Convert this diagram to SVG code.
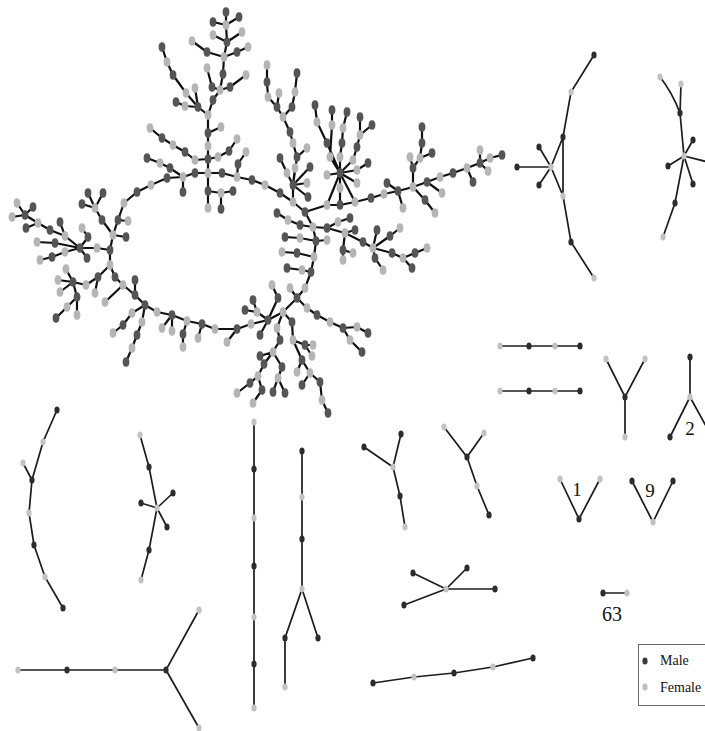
<svg xmlns="http://www.w3.org/2000/svg" xmlns:xlink="http://www.w3.org/1999/xlink" width="705" height="731" viewBox="0 0 705 731">
<style>
.e{fill:none;stroke:#111;stroke-width:2.2;stroke-linejoin:round;stroke-linecap:round}
.es{fill:none;stroke:#1c1c1c;stroke-width:1.7;stroke-linecap:round}
.lbl{font-family:"Liberation Serif","Times New Roman",serif;fill:#111}
</style>
<defs>
<ellipse id="M" rx="3.4" ry="4.7" fill="#555"/>
<ellipse id="F" rx="3.4" ry="4.7" fill="#b5b5b5"/>
<ellipse id="m" rx="2.6" ry="3.5" fill="#2c2c2c"/>
<ellipse id="f" rx="2.6" ry="3.5" fill="#c2c2c2"/>
</defs>
<rect width="705" height="731" fill="#fff"/>
<g id="connectors">
<path class="e" d="M124 203 L137 192 L151 185 L167 178 L183 177 L195 173 L208 173 L222 173 L237 177 L252 180 L265 185 L280 193 L293 202 L305 212 L313 227 L316 241 L314 257 L311 272 L305 288 L297 298 L283 312 L268 320 L251 324 L237 329 L215 329 L202 324 L187 321 L172 315 L157 312 L145 305 L135 295 L123 285 L115 277 L110 265 L110 250 L113 235 L118 220 L124 203"/>
<path class="e" d="M208 173 L208 159 L208 146 L208 133 L208 115 L213 100 L220 90 L223 74 L224 57 L227 42 L226 25 L226 12 M213 22 L226 25 L239 17 M213 35 L227 42 L242 32 M192 41 L207 52 L224 57 L237 52 L248 47 M207 68 L212 87 L220 90 L230 87 L246 75 M208 133 L221 127 M208 115 L198 107 L185 106 L176 102 M198 107 L195 88 M198 107 L186 93 L173 75 L167 62 L162 47 M208 159 L195 160 L185 152 L173 145 L162 138 L150 128 M208 159 L218 157 L229 151 L237 139 M237 177 L238 164 L246 152 M183 177 L170 168 L160 163 L147 158 M183 177 L183 192 M208 173 L208 191 L208 208 M208 191 L221 193 L233 191 M221 193 L221 209"/>
<path class="e" d="M113 235 L102 220 L95 208 L88 193 M95 208 L103 193 M95 208 L82 204 M118 220 L128 221 M113 235 L126 237"/>
<path class="e" d="M110 250 L97 248 L80 248 L65 236 L50 230 L38 223 L25 215 L17 203 M25 215 L12 217 M25 215 L33 207 M38 223 L26 228 M65 236 L60 222 M80 248 L55 243 L37 242 M80 248 L65 252 L52 257 L40 260 M80 248 L88 237 L82 228 M80 248 L87 258"/>
<path class="e" d="M110 265 L98 277 L86 285 L73 282 L58 280 M73 282 L66 269 M73 282 L60 292 M73 282 L77 297 L67 307 L56 318 M77 297 L77 315 M98 277 L95 293 M123 285 L105 302 M135 295 L135 280 M145 305 L132 313 L123 325 L113 333 M145 305 L142 322 L137 335 L132 348 L126 362"/>
<path class="e" d="M172 315 L162 328 M172 315 L172 331 M187 321 L183 334 L183 347 M202 324 L198 338 M237 329 L227 342"/>
<path class="e" d="M268 320 L257 312 L245 310 M257 312 L253 300 M268 320 L278 298 L272 285 M268 320 L260 335 M283 312 L277 328 L280 340 L273 352 L260 356 M273 352 L264 364 L258 376 L250 383 L237 393 M258 376 L262 390 L253 403 M273 352 L282 367 L278 378 L273 392 M278 378 L285 393 M283 312 L292 322 L293 340 L302 360 L310 373 L320 382 L322 400 L328 413 M293 340 L305 345 L313 345 M305 345 L312 356 M310 373 L302 385 M302 360 L297 372 M297 298 L307 308 L317 315 L330 322 L343 328 L357 327 L368 333 M343 328 L350 340 L362 352 M297 298 L290 288"/>
<path class="e" d="M316 241 L300 238 L285 237 M316 241 L327 240 M314 257 L297 253 L282 252 M311 272 L302 270 L287 268 M313 227 L300 225 L288 220 L277 213"/>
<path class="e" d="M313 227 L327 228 L338 222 L350 218 M327 228 L345 233 L355 230 M345 233 L343 250 L343 260 M343 250 L353 253 M345 233 L363 242 L373 248 M373 248 L377 230 M373 248 L390 236 L400 228 M373 248 L375 258 L383 270 M373 248 L392 253 L403 258 L415 253 L427 248 M403 258 L412 268"/>
<path class="e" d="M293 202 L293 185 L287 173 L280 158 M293 185 L295 168 M293 185 L310 167 M293 185 L307 183 M293 185 L308 197 M293 185 L297 157 L293 143 L290 132 L283 117 L277 107 L268 97 L267 82 L267 65 M277 107 L279 93 M283 117 L292 107 L295 92 L297 73 M297 157 L307 148"/>
<path class="e" d="M340 173 L327 143 L317 122 L315 105 M340 173 L330 157 L332 125 L332 110 M340 173 L340 157 L342 143 L343 128 L347 112 M340 173 L353 160 L357 147 L360 135 L360 117 M360 135 L372 125 M340 173 L357 170 L368 163 M340 173 L357 183 M340 173 L327 175 M340 173 L340 188 L340 205 M340 173 L327 205 M340 173 L355 202"/>
<path class="e" d="M305 212 L327 205 L340 205 L355 202 L371 198 L384 194 L398 191 L413 187 L427 182 L440 177 L453 173 L467 168 L480 163 L490 158 L502 155 M480 163 L480 150 M480 163 L488 171 M467 168 L473 182 M398 191 L387 183 M398 191 L403 208 M413 187 L413 168 L410 157 M413 168 L420 158 L422 143 L422 127 M420 158 L432 153 M427 182 L442 193 M413 187 L425 200 L435 213"/>
<path class="es" d="M594 55 L571 92 L563 137 L563 196 L571 242 L594 278 M563 137 L551 167 L563 196 M551 167 L517 167 M551 167 L539 147 M551 167 L539 185"/>
<path class="es" d="M660 77 Q672 92 680 113 M681 84 L680 113 L684 156 M684 156 L693 140 M684 156 L668 166 M684 156 L693 184 M684 156 L708 162 M684 156 L675 203 L663 237"/>
<path class="es" d="M500 346 L580 346 M500 391 L580 391 M606 359 L625 397 L645 359 M625 397 L625 437 M690 357 L690 397 L670 437 M690 397 L712 437 M560 479 L579 519 L600 479 M632 481 L653 522 L673 481 M603 593 L627 593"/>
<path class="es" d="M57 410 L43 442 L32 480 L29 513 L34 545 L45 577 L63 608 M23 463 L32 480 M140 435 L149 467 L157 508 L149 550 L141 580 M157 508 L173 493 M157 508 L141 503 M157 508 L167 527 M18 670 L166 670 L199 610 M166 670 L199 728"/>
<path class="es" d="M254 422 L254 708 M302 451 L302 589 L285 638 L285 687 M302 589 L318 638 M364 447 L393 467 L401 434 M393 467 L400 496 L405 527 M444 427 L467 457 L484 433 M467 457 L477 486 L489 515 M413 573 L446 589 L467 568 M446 589 L495 589 M446 589 L404 605 M373 683 L414 677 L454 673 L493 667 L533 658"/>
</g>
<g id="giant-component">
<use href="#M" x="137" y="192"/><use href="#M" x="167" y="178"/><use href="#M" x="195" y="173"/><use href="#M" x="222" y="173"/><use href="#M" x="252" y="180"/><use href="#M" x="280" y="193"/><use href="#M" x="305" y="212"/><use href="#M" x="316" y="241"/><use href="#M" x="311" y="272"/><use href="#M" x="297" y="298"/><use href="#M" x="268" y="320"/><use href="#M" x="237" y="329"/><use href="#M" x="202" y="324"/><use href="#M" x="172" y="315"/><use href="#M" x="145" y="305"/><use href="#M" x="135" y="295"/><use href="#M" x="115" y="277"/><use href="#M" x="110" y="250"/><use href="#M" x="118" y="220"/>
<use href="#F" x="124" y="203"/><use href="#F" x="151" y="185"/><use href="#F" x="183" y="177"/><use href="#F" x="208" y="173"/><use href="#F" x="237" y="177"/><use href="#F" x="265" y="185"/><use href="#F" x="293" y="202"/><use href="#F" x="313" y="227"/><use href="#F" x="314" y="257"/><use href="#F" x="305" y="288"/><use href="#F" x="283" y="312"/><use href="#F" x="251" y="324"/><use href="#F" x="215" y="329"/><use href="#F" x="187" y="321"/><use href="#F" x="157" y="312"/><use href="#F" x="123" y="285"/><use href="#F" x="110" y="265"/><use href="#F" x="113" y="235"/>
<use href="#M" x="208" y="159"/><use href="#M" x="208" y="133"/><use href="#M" x="213" y="100"/><use href="#M" x="223" y="74"/><use href="#M" x="227" y="42"/><use href="#M" x="226" y="12"/><use href="#M" x="213" y="22"/><use href="#M" x="239" y="17"/><use href="#M" x="207" y="52"/><use href="#M" x="237" y="52"/><use href="#M" x="212" y="87"/><use href="#M" x="230" y="87"/><use href="#M" x="198" y="107"/><use href="#M" x="176" y="102"/><use href="#M" x="173" y="75"/><use href="#M" x="162" y="47"/><use href="#M" x="185" y="152"/><use href="#M" x="162" y="138"/><use href="#M" x="229" y="151"/><use href="#M" x="238" y="164"/><use href="#M" x="170" y="168"/><use href="#M" x="147" y="158"/><use href="#M" x="183" y="192"/><use href="#M" x="208" y="191"/><use href="#M" x="233" y="191"/><use href="#M" x="221" y="209"/>
<use href="#F" x="208" y="146"/><use href="#F" x="208" y="115"/><use href="#F" x="220" y="90"/><use href="#F" x="224" y="57"/><use href="#F" x="226" y="25"/><use href="#F" x="213" y="35"/><use href="#F" x="242" y="32"/><use href="#F" x="192" y="41"/><use href="#F" x="248" y="47"/><use href="#F" x="207" y="68"/><use href="#F" x="246" y="75"/><use href="#F" x="221" y="127"/><use href="#F" x="185" y="106"/><use href="#F" x="195" y="88"/><use href="#F" x="186" y="93"/><use href="#F" x="167" y="62"/><use href="#F" x="195" y="160"/><use href="#F" x="173" y="145"/><use href="#F" x="150" y="128"/><use href="#F" x="218" y="157"/><use href="#F" x="237" y="139"/><use href="#F" x="246" y="152"/><use href="#F" x="160" y="163"/><use href="#F" x="208" y="208"/><use href="#F" x="221" y="193"/>
<use href="#M" x="102" y="220"/><use href="#M" x="88" y="193"/><use href="#M" x="103" y="193"/><use href="#M" x="82" y="204"/><use href="#M" x="126" y="237"/><use href="#F" x="95" y="208"/><use href="#F" x="128" y="221"/>
<use href="#M" x="80" y="248"/><use href="#M" x="50" y="230"/><use href="#M" x="25" y="215"/><use href="#M" x="33" y="207"/><use href="#M" x="26" y="228"/><use href="#M" x="60" y="222"/><use href="#M" x="55" y="243"/><use href="#M" x="52" y="257"/><use href="#M" x="88" y="237"/><use href="#M" x="87" y="258"/>
<use href="#F" x="97" y="248"/><use href="#F" x="65" y="236"/><use href="#F" x="38" y="223"/><use href="#F" x="17" y="203"/><use href="#F" x="12" y="217"/><use href="#F" x="37" y="242"/><use href="#F" x="65" y="252"/><use href="#F" x="40" y="260"/><use href="#F" x="82" y="228"/>
<use href="#M" x="98" y="277"/><use href="#M" x="73" y="282"/><use href="#M" x="77" y="297"/><use href="#M" x="56" y="318"/><use href="#M" x="135" y="280"/><use href="#M" x="123" y="325"/><use href="#M" x="137" y="335"/><use href="#M" x="126" y="362"/>
<use href="#F" x="86" y="285"/><use href="#F" x="58" y="280"/><use href="#F" x="66" y="269"/><use href="#F" x="60" y="292"/><use href="#F" x="67" y="307"/><use href="#F" x="77" y="315"/><use href="#F" x="95" y="293"/><use href="#F" x="105" y="302"/><use href="#F" x="132" y="313"/><use href="#F" x="113" y="333"/><use href="#F" x="142" y="322"/><use href="#F" x="132" y="348"/>
<use href="#M" x="183" y="334"/><use href="#F" x="162" y="328"/><use href="#F" x="172" y="331"/><use href="#F" x="183" y="347"/><use href="#F" x="198" y="338"/><use href="#F" x="227" y="342"/>
<use href="#M" x="245" y="310"/><use href="#M" x="253" y="300"/><use href="#M" x="278" y="298"/><use href="#M" x="260" y="335"/><use href="#M" x="280" y="340"/><use href="#M" x="260" y="356"/><use href="#M" x="264" y="364"/><use href="#M" x="250" y="383"/><use href="#M" x="262" y="390"/><use href="#M" x="282" y="367"/><use href="#M" x="273" y="392"/><use href="#M" x="285" y="393"/><use href="#M" x="292" y="322"/><use href="#M" x="305" y="345"/><use href="#M" x="302" y="360"/><use href="#M" x="320" y="382"/><use href="#M" x="328" y="413"/><use href="#M" x="302" y="385"/><use href="#M" x="317" y="315"/><use href="#M" x="343" y="328"/><use href="#M" x="368" y="333"/><use href="#M" x="362" y="352"/>
<use href="#F" x="257" y="312"/><use href="#F" x="272" y="285"/><use href="#F" x="277" y="328"/><use href="#F" x="273" y="352"/><use href="#F" x="258" y="376"/><use href="#F" x="237" y="393"/><use href="#F" x="253" y="403"/><use href="#F" x="278" y="378"/><use href="#F" x="293" y="340"/><use href="#F" x="313" y="345"/><use href="#F" x="312" y="356"/><use href="#F" x="297" y="372"/><use href="#F" x="310" y="373"/><use href="#F" x="322" y="400"/><use href="#F" x="307" y="308"/><use href="#F" x="330" y="322"/><use href="#F" x="357" y="327"/><use href="#F" x="350" y="340"/><use href="#F" x="290" y="288"/>
<use href="#M" x="285" y="237"/><use href="#M" x="297" y="253"/><use href="#M" x="287" y="268"/><use href="#M" x="300" y="225"/><use href="#M" x="277" y="213"/><use href="#F" x="300" y="238"/><use href="#F" x="327" y="240"/><use href="#F" x="282" y="252"/><use href="#F" x="302" y="270"/><use href="#F" x="288" y="220"/>
<use href="#M" x="327" y="228"/><use href="#M" x="350" y="218"/><use href="#M" x="355" y="230"/><use href="#M" x="343" y="250"/><use href="#M" x="363" y="242"/><use href="#M" x="377" y="230"/><use href="#M" x="390" y="236"/><use href="#M" x="375" y="258"/><use href="#M" x="392" y="253"/><use href="#M" x="415" y="253"/><use href="#M" x="412" y="268"/>
<use href="#F" x="338" y="222"/><use href="#F" x="345" y="233"/><use href="#F" x="343" y="260"/><use href="#F" x="353" y="253"/><use href="#F" x="373" y="248"/><use href="#F" x="400" y="228"/><use href="#F" x="383" y="270"/><use href="#F" x="403" y="258"/><use href="#F" x="427" y="248"/>
<use href="#M" x="293" y="185"/><use href="#M" x="280" y="158"/><use href="#M" x="310" y="167"/><use href="#M" x="308" y="197"/><use href="#M" x="297" y="157"/><use href="#M" x="290" y="132"/><use href="#M" x="277" y="107"/><use href="#M" x="267" y="82"/><use href="#M" x="292" y="107"/><use href="#M" x="297" y="73"/>
<use href="#F" x="287" y="173"/><use href="#F" x="295" y="168"/><use href="#F" x="307" y="183"/><use href="#F" x="293" y="143"/><use href="#F" x="283" y="117"/><use href="#F" x="268" y="97"/><use href="#F" x="267" y="65"/><use href="#F" x="279" y="93"/><use href="#F" x="295" y="92"/><use href="#F" x="307" y="148"/>
<use href="#M" x="340" y="173"/><use href="#M" x="327" y="143"/><use href="#M" x="315" y="105"/><use href="#M" x="332" y="110"/><use href="#M" x="342" y="143"/><use href="#M" x="347" y="112"/><use href="#M" x="357" y="147"/><use href="#M" x="360" y="117"/><use href="#M" x="372" y="125"/><use href="#M" x="368" y="163"/>
<use href="#F" x="317" y="122"/><use href="#F" x="330" y="157"/><use href="#F" x="332" y="125"/><use href="#F" x="340" y="157"/><use href="#F" x="343" y="128"/><use href="#F" x="353" y="160"/><use href="#F" x="360" y="135"/><use href="#F" x="357" y="170"/><use href="#F" x="357" y="183"/><use href="#F" x="327" y="175"/><use href="#F" x="340" y="188"/>
<use href="#M" x="340" y="205"/><use href="#M" x="371" y="198"/><use href="#M" x="398" y="191"/><use href="#M" x="427" y="182"/><use href="#M" x="453" y="173"/><use href="#M" x="480" y="163"/><use href="#M" x="502" y="155"/><use href="#M" x="473" y="182"/><use href="#M" x="387" y="183"/><use href="#M" x="413" y="168"/><use href="#M" x="422" y="143"/><use href="#M" x="422" y="127"/><use href="#M" x="432" y="153"/><use href="#M" x="425" y="200"/>
<use href="#F" x="327" y="205"/><use href="#F" x="355" y="202"/><use href="#F" x="384" y="194"/><use href="#F" x="413" y="187"/><use href="#F" x="440" y="177"/><use href="#F" x="467" y="168"/><use href="#F" x="490" y="158"/><use href="#F" x="480" y="150"/><use href="#F" x="488" y="171"/><use href="#F" x="403" y="208"/><use href="#F" x="410" y="157"/><use href="#F" x="420" y="158"/><use href="#F" x="442" y="193"/><use href="#F" x="435" y="213"/>
</g>
<g id="comp-right-arc">
<use href="#m" x="594" y="55"/><use href="#m" x="563" y="137"/><use href="#m" x="517" y="167"/><use href="#m" x="539" y="147"/><use href="#m" x="539" y="185"/><use href="#m" x="571" y="242"/>
<use href="#f" x="571" y="92"/><use href="#f" x="551" y="167"/><use href="#f" x="563" y="196"/><use href="#f" x="594" y="278"/>
</g>
<g id="comp-right-star">
<use href="#f" x="660" y="77"/><use href="#f" x="681" y="84"/><use href="#f" x="684" y="156"/><use href="#f" x="663" y="237"/>
<use href="#m" x="680" y="113"/><use href="#m" x="693" y="140"/><use href="#m" x="668" y="166"/><use href="#m" x="693" y="184"/><use href="#m" x="675" y="203"/>
</g>
<g id="comp-chain-a"><use href="#f" x="500" y="346"/><use href="#m" x="529" y="346"/><use href="#f" x="555" y="346"/><use href="#m" x="580" y="346"/></g>
<g id="comp-chain-b"><use href="#f" x="500" y="391"/><use href="#m" x="529" y="391"/><use href="#f" x="555" y="391"/><use href="#m" x="580" y="391"/></g>
<g id="comp-y1"><use href="#f" x="606" y="359"/><use href="#f" x="645" y="359"/><use href="#m" x="625" y="397"/><use href="#f" x="625" y="437"/></g>
<g id="comp-y2"><use href="#m" x="690" y="357"/><use href="#f" x="690" y="397"/><use href="#m" x="670" y="437"/><text class="lbl" x="690" y="435" font-size="19" text-anchor="middle">2</text></g>
<g id="comp-v1"><use href="#f" x="560" y="479"/><use href="#f" x="600" y="479"/><use href="#m" x="579" y="519"/><text class="lbl" x="577" y="496" font-size="19" text-anchor="middle">1</text></g>
<g id="comp-v9"><use href="#m" x="632" y="481"/><use href="#m" x="673" y="481"/><use href="#f" x="653" y="522"/><text class="lbl" x="650" y="497" font-size="19" text-anchor="middle">9</text></g>
<g id="comp-pair63"><use href="#m" x="603" y="593"/><use href="#f" x="627" y="593"/><text class="lbl" x="612" y="621" font-size="20" text-anchor="middle">63</text></g>
<g id="comp-left-arc">
<use href="#m" x="57" y="410"/><use href="#m" x="32" y="480"/><use href="#m" x="34" y="545"/><use href="#m" x="63" y="608"/>
<use href="#f" x="43" y="442"/><use href="#f" x="23" y="463"/><use href="#f" x="29" y="513"/><use href="#f" x="45" y="577"/>
</g>
<g id="comp-left-star">
<use href="#f" x="140" y="435"/><use href="#f" x="157" y="508"/><use href="#f" x="141" y="580"/>
<use href="#m" x="149" y="467"/><use href="#m" x="173" y="493"/><use href="#m" x="141" y="503"/><use href="#m" x="167" y="527"/><use href="#m" x="149" y="550"/>
</g>
<g id="comp-bottom-y"><use href="#f" x="18" y="670"/><use href="#m" x="67" y="670"/><use href="#f" x="115" y="670"/><use href="#m" x="166" y="670"/><use href="#f" x="199" y="610"/><use href="#f" x="199" y="728"/></g>
<g id="comp-long-chain"><use href="#f" x="254" y="422"/><use href="#m" x="254" y="469"/><use href="#f" x="254" y="518"/><use href="#m" x="254" y="566"/><use href="#f" x="254" y="617"/><use href="#m" x="254" y="664"/><use href="#f" x="254" y="708"/></g>
<g id="comp-fork"><use href="#m" x="302" y="451"/><use href="#f" x="302" y="497"/><use href="#m" x="302" y="539"/><use href="#f" x="302" y="589"/><use href="#m" x="285" y="638"/><use href="#m" x="318" y="638"/><use href="#f" x="285" y="687"/></g>
<g id="comp-y3"><use href="#m" x="364" y="447"/><use href="#m" x="401" y="434"/><use href="#f" x="393" y="467"/><use href="#m" x="400" y="496"/><use href="#f" x="405" y="527"/></g>
<g id="comp-y4"><use href="#f" x="444" y="427"/><use href="#f" x="484" y="433"/><use href="#m" x="467" y="457"/><use href="#f" x="477" y="486"/><use href="#m" x="489" y="515"/></g>
<g id="comp-star4"><use href="#m" x="413" y="573"/><use href="#m" x="467" y="568"/><use href="#f" x="446" y="589"/><use href="#m" x="495" y="589"/><use href="#m" x="404" y="605"/></g>
<g id="comp-chain5"><use href="#m" x="373" y="683"/><use href="#f" x="414" y="677"/><use href="#m" x="454" y="673"/><use href="#f" x="493" y="667"/><use href="#m" x="533" y="658"/></g>
<g id="legend">
<rect x="638.5" y="644.5" width="80" height="61" fill="#fff" stroke="#666" stroke-width="1"/>
<ellipse cx="645" cy="661" rx="2.6" ry="3.5" fill="#3a3a3a"/>
<text class="lbl" x="660" y="665" font-size="14">Male</text>
<ellipse cx="645" cy="687" rx="2.6" ry="3.5" fill="#bdbdbd"/>
<text class="lbl" x="660" y="692" font-size="14">Female</text>
</g>
</svg>
